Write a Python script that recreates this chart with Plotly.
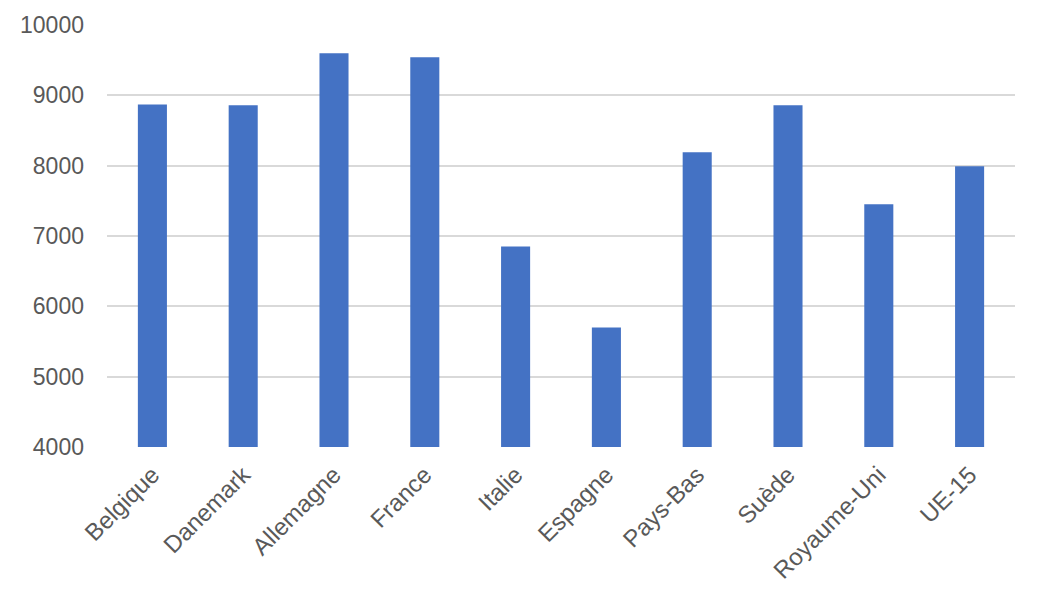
import plotly.graph_objects as go

# --- data ---
countries = ["Belgique", "Danemark", "Allemagne", "France", "Italie",
             "Espagne", "Pays-Bas", "Suède", "Royaume-Uni", "UE-15"]
values = [8870, 8860, 9600, 9540, 6850, 5700, 8190, 8860, 7450, 7990]

y_min, y_max, y_step = 4000, 10000, 1000

fig = go.Figure()
fig.add_trace(go.Bar(
    x=countries,
    y=values,
    marker=dict(color="#4472C4", line=dict(width=0)),
))

font_main = "Liberation Sans, Arial, sans-serif"

# page body has an 8px margin, so margins are offset to land the plot area
# where it sits in the reference
fig.update_layout(
    width=1045, height=605,
    paper_bgcolor="white",
    plot_bgcolor="white",
    margin=dict(l=99, r=38, t=17, b=166, autoexpand=False),
    bargap=0.68,
    showlegend=False,
    xaxis=dict(
        automargin=False,
        tickangle=-45,
        tickfont=dict(family=font_main, size=24, color="#595959"),
        showgrid=False,
        showline=False,
        ticks="",
        ticklabelstandoff=8,
    ),
    yaxis=dict(
        automargin=False,
        range=[y_min, y_max],
        dtick=y_step,
        tick0=y_min,
        showgrid=True,
        gridcolor="#d9d9d9",
        gridwidth=1.5,
        zeroline=False,
        showline=False,
        ticks="",
        tickfont=dict(family=font_main, size=23, color="#595959"),
        ticklabelstandoff=22,
        tickformat="d",
    ),
)

fig.write_html("out.html")
